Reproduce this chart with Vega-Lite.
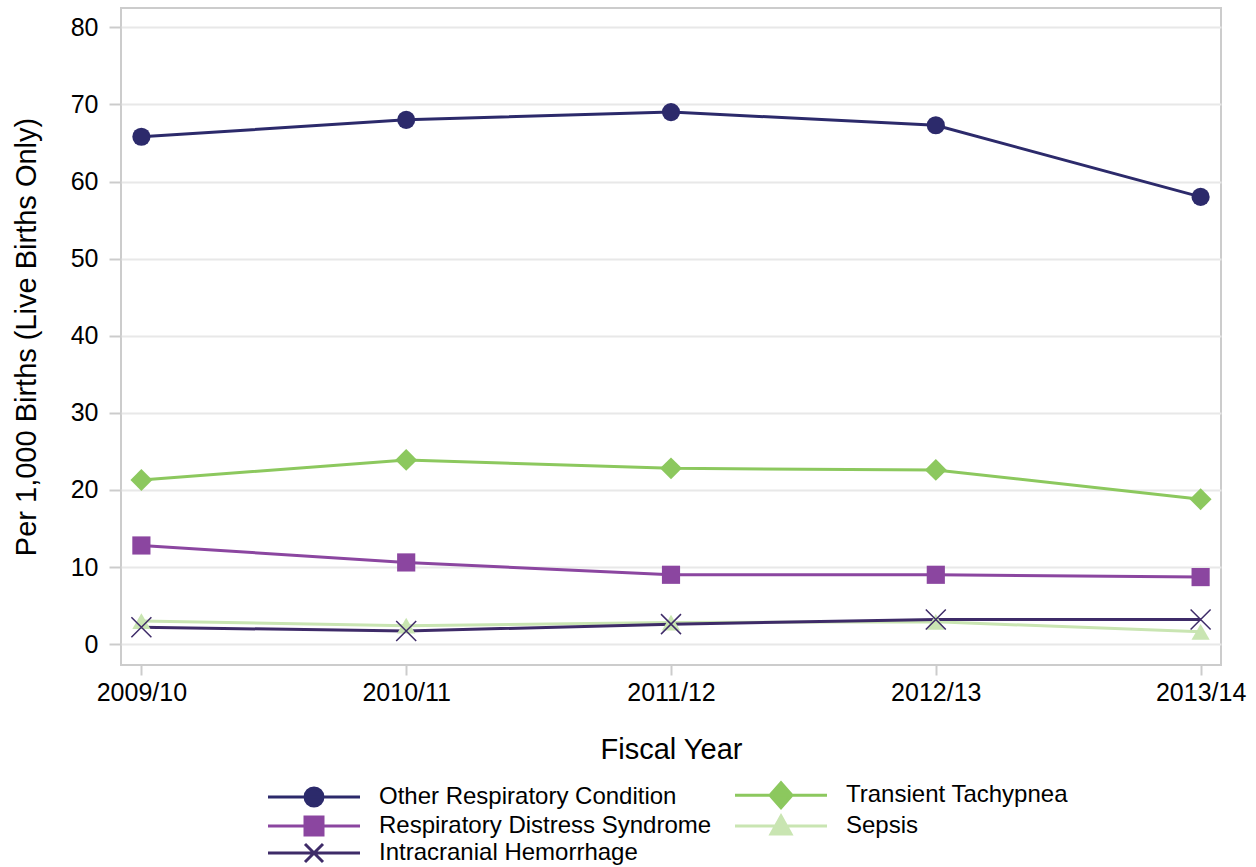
{
  "$schema": "https://vega.github.io/schema/vega-lite/v6.json",
  "width": 1100,
  "height": 657,
  "autosize": {"type": "none"},
  "padding": {"left": 121, "top": 8, "right": 35, "bottom": 202},
  "background": "white",
  "config": {
    "font": "Liberation Sans",
    "view": {"stroke": "#cccccc", "strokeWidth": 2},
    "axis": {"labelFont": "Liberation Sans", "titleFont": "Liberation Sans", "labelColor": "#000000", "titleColor": "#000000", "titleFontWeight": "normal", "domain": false, "tickColor": "#cccccc", "tickWidth": 2, "gridColor": "#e8e8e8", "gridWidth": 2},
    "legend": {"symbolStrokeWidth": 3, "symbolOpacity": 1}
  },
  "data": {"values": [
    {"year": "2009/10", "series": "Other Respiratory Condition", "value": 65.8},
    {"year": "2010/11", "series": "Other Respiratory Condition", "value": 68.0},
    {"year": "2011/12", "series": "Other Respiratory Condition", "value": 69.0},
    {"year": "2012/13", "series": "Other Respiratory Condition", "value": 67.3},
    {"year": "2013/14", "series": "Other Respiratory Condition", "value": 58.0},
    {"year": "2009/10", "series": "Transient Tachypnea", "value": 21.3},
    {"year": "2010/11", "series": "Transient Tachypnea", "value": 23.9},
    {"year": "2011/12", "series": "Transient Tachypnea", "value": 22.8},
    {"year": "2012/13", "series": "Transient Tachypnea", "value": 22.6},
    {"year": "2013/14", "series": "Transient Tachypnea", "value": 18.8},
    {"year": "2009/10", "series": "Respiratory Distress Syndrome", "value": 12.8},
    {"year": "2010/11", "series": "Respiratory Distress Syndrome", "value": 10.6},
    {"year": "2011/12", "series": "Respiratory Distress Syndrome", "value": 9.0},
    {"year": "2012/13", "series": "Respiratory Distress Syndrome", "value": 9.0},
    {"year": "2013/14", "series": "Respiratory Distress Syndrome", "value": 8.7},
    {"year": "2009/10", "series": "Sepsis", "value": 3.0},
    {"year": "2010/11", "series": "Sepsis", "value": 2.4},
    {"year": "2011/12", "series": "Sepsis", "value": 2.8},
    {"year": "2012/13", "series": "Sepsis", "value": 2.9},
    {"year": "2013/14", "series": "Sepsis", "value": 1.6},
    {"year": "2009/10", "series": "Intracranial Hemorrhage", "value": 2.2},
    {"year": "2010/11", "series": "Intracranial Hemorrhage", "value": 1.7},
    {"year": "2011/12", "series": "Intracranial Hemorrhage", "value": 2.6},
    {"year": "2012/13", "series": "Intracranial Hemorrhage", "value": 3.2},
    {"year": "2013/14", "series": "Intracranial Hemorrhage", "value": 3.2}
  ]},
  "encoding": {
    "x": {"field": "year", "type": "ordinal", "scale": {"type": "point", "padding": 0.077},
      "axis": {"title": "Fiscal Year", "labelAngle": 0, "labelFontSize": 25, "titleFontSize": 29, "tickSize": 10, "labelPadding": 5, "titlePadding": 30, "grid": false}},
    "y": {"field": "value", "type": "quantitative", "scale": {"domain": [-2.7, 82.5], "nice": false, "zero": false},
      "axis": {"title": "Per 1,000 Births (Live Births Only)", "values": [0, 10, 20, 30, 40, 50, 60, 70, 80], "labelFontSize": 25, "titleFontSize": 29, "tickSize": 12, "labelPadding": 11, "titlePadding": 29}},
    "color": {"field": "series", "type": "nominal",
      "legend": {"title": null, "orient": "none", "legendX": 181, "legendY": 775, "columns": 2, "columnPadding": 17, "rowPadding": -5,
        "labelFontSize": 24, "labelFont": "Liberation Sans", "labelColor": "#000000", "labelOffset": 53, "labelLimit": 500, "symbolSize": 400, "symbolStrokeWidth": 3, "symbolOpacity": 1},
      "scale": {"domain": ["Other Respiratory Condition", "Respiratory Distress Syndrome", "Intracranial Hemorrhage", "Transient Tachypnea", "Sepsis"],
        "range": ["#2c2a6b", "#8b46a0", "#3e2b68", "#8cc85e", "#c9e5b2"]}}
  },
  "layer": [
    {"mark": {"type": "point", "filled": true, "opacity": 0},
      "encoding": {
        "shape": {"field": "series", "type": "nominal",
          "legend": {"title": null, "orient": "none", "legendX": 181, "legendY": 775, "columns": 2, "columnPadding": 17, "rowPadding": -5,
            "labelFontSize": 24, "labelFont": "Liberation Sans", "labelColor": "#000000", "labelOffset": 53, "labelLimit": 500, "symbolSize": 400, "symbolStrokeWidth": 3, "symbolOpacity": 1},
          "scale": {"domain": ["Other Respiratory Condition", "Respiratory Distress Syndrome", "Intracranial Hemorrhage", "Transient Tachypnea", "Sepsis"],
            "range": [
              "M-4.6,0H-0.9A0.9,0.9 0 1,1 0.9,0H4.6M0.9,0A0.9,0.9 0 1,1 -0.9,0Z",
              "M-4.6,0H4.6M-0.9,-0.9H0.9V0.9H-0.9Z",
              "M-4.6,0H4.6M-0.9,-0.9L0.9,0.9M-0.9,0.9L0.9,-0.9",
              "M-4.6,0H4.6M0,-1.25L1.1,0L0,1.25L-1.1,0Z",
              "M-4.6,0H4.6M0,-1L1,0.8L-1,0.8Z"
            ]}}
      }},
    {"mark": {"type": "line", "strokeWidth": 3}},
    {"transform": [{"filter": "datum.series === 'Other Respiratory Condition'"}], "mark": {"type": "point", "filled": true, "opacity": 1, "shape": "circle", "size": 330}},
    {"transform": [{"filter": "datum.series === 'Transient Tachypnea'"}], "mark": {"type": "point", "filled": true, "opacity": 1, "shape": "diamond", "size": 480}},
    {"transform": [{"filter": "datum.series === 'Respiratory Distress Syndrome'"}], "mark": {"type": "point", "filled": true, "opacity": 1, "shape": "square", "size": 330}},
    {"transform": [{"filter": "datum.series === 'Sepsis'"}], "mark": {"type": "point", "filled": true, "opacity": 1, "shape": "triangle-up", "size": 330}},
    {"transform": [{"filter": "datum.series === 'Intracranial Hemorrhage'"}], "mark": {"type": "point", "filled": false, "opacity": 1, "strokeWidth": 1.5, "shape": "M-1,-1L1,1M-1,1L1,-1", "size": 400}}
  ]
}
